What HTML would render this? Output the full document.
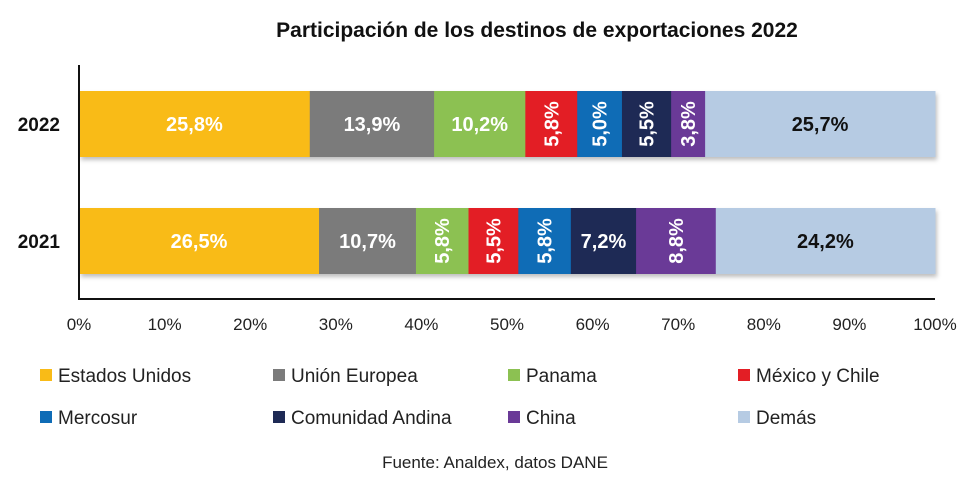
<!DOCTYPE html>
<html><head><meta charset="utf-8"><style>
body{margin:0;background:#fff;font-family:"Liberation Sans",sans-serif;}
svg text{font-family:"Liberation Sans",sans-serif;}
</style></head><body>
<svg id="c" width="979" height="490" viewBox="0 0 979 490">
<defs><filter id="sh" x="-5%" y="-10%" width="110%" height="130%"><feDropShadow dx="2" dy="3" stdDeviation="2" flood-color="#000" flood-opacity="0.25"/></filter></defs>
<text x="537" y="37" text-anchor="middle" font-size="21" font-weight="bold" fill="#111">Participación de los destinos de exportaciones 2022</text>
<g id="plot"></g>
<text x="495" y="468" text-anchor="middle" font-size="17" fill="#222">Fuente: Analdex, datos DANE</text>
</svg>
<script>
const categories=["Estados Unidos","Unión Europea","Panama","México y Chile","Mercosur","Comunidad Andina","China","Demás"];
const years=["2022","2021"];
const values2022=[25.8,13.9,10.2,5.8,5.0,5.5,3.8,25.7];
const values2021=[26.5,10.7,5.8,5.5,5.8,7.2,8.8,24.2];
const rotate2022=[false,false,false,true,true,true,true,false];
const rotate2021=[false,false,true,true,true,false,true,false];
const ticks=[0,10,20,30,40,50,60,70,80,90,100];
const colors=["#f9bb17","#7b7b7b","#8cc152","#e31e25","#0f6cb6","#1e2a55","#6a3a97","#b6cbe3"];
const NS="http://www.w3.org/2000/svg";
const g=document.getElementById('plot');
const x0=79,x1=935,yTop=65,yBase=299;
const xs=v=>x0+(x1-x0)*v/100;
const rowY={"2022":91,"2021":208},bh=66;
function el(t,a){const e=document.createElementNS(NS,t);for(const k in a)e.setAttribute(k,a[k]);g.appendChild(e);return e;}
[[years[0],values2022,rotate2022],[years[1],values2021,rotate2021]].forEach(([yr,vals,rot])=>{
  const tot=vals.reduce((a,b)=>a+b,0);let cum=0;const y=rowY[yr];
  const lab=el('text',{x:60,y:y+bh/2+7,'text-anchor':'end','font-size':19,'font-weight':'bold',fill:'#111'});
  
  
  lab.textContent=yr;
  const bg=el('rect',{x:xs(0),y:y,width:xs(100)-xs(0),height:bh,fill:'#fff',filter:'url(#sh)'});
  
  
  vals.forEach((v,i)=>{
    const a=xs(cum/tot*100),b=xs((cum+v)/tot*100);cum+=v;
    const r=el('rect',{x:a,y:y,width:b-a+0.5,height:bh,fill:colors[i]});
    
    
    const cx=(a+b)/2,cy=y+bh/2;
    const t=el('text',{'font-size':20,'font-weight':'bold',fill:i==7?'#111':'#fff','text-anchor':'middle'});
    
    
    if(rot[i]){t.setAttribute('transform','translate('+(cx+7)+','+cy+') rotate(-90)');t.setAttribute('x',0);t.setAttribute('y',0);}
    else{t.setAttribute('x',cx);t.setAttribute('y',cy+7);}
    t.textContent=v.toFixed(1).replace('.',',')+'%';
  });
});
const ax=el('path',{d:'M'+x0+' '+yTop+'V'+yBase+'H'+x1,stroke:'#111','stroke-width':2,fill:'none'});


ticks.forEach(tk=>{
  const t=el('text',{x:xs(tk),y:330,'text-anchor':'middle','font-size':17,fill:'#222'});
  
  
  t.textContent=tk+'%';
});
const lx=[40,273,508,738],ly=[376,418];
categories.forEach((c,i)=>{
  const x=lx[i%4],y=ly[Math.floor(i/4)];
  const s=el('rect',{x:x,y:y-7,width:12,height:12,fill:colors[i]});
  
  
  const t=el('text',{x:x+18,y:y+6,'font-size':19,fill:'#222'});
  
  
  t.textContent=c;
});
</script>
</body></html>
